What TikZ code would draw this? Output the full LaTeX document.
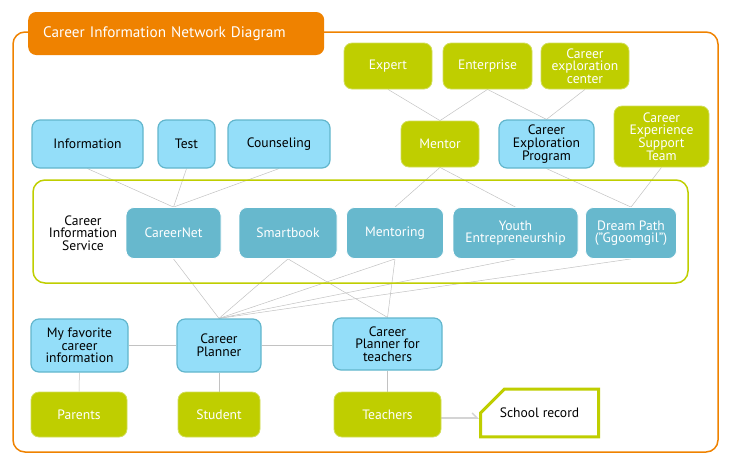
\documentclass[tikz,border=0pt]{standalone}
\usepackage{fontspec}
\setmainfont{PT Sans}
\usetikzlibrary{shapes.misc,arrows.meta,backgrounds}
\definecolor{netorange}{HTML}{EF8200}
\definecolor{netgreen}{HTML}{BFCE00}
\definecolor{netgreenline}{HTML}{D2DE5A}
\definecolor{netblue}{HTML}{94DEF9}
\definecolor{netblueline}{HTML}{62B6CC}
\definecolor{netteal}{HTML}{67B8CD}
\definecolor{netgrey}{HTML}{C2C2C2}
\begin{document}
\begin{tikzpicture}[x=1pt,y=-1pt,
    every node/.style={font=\fontsize{13.6}{12.6}\selectfont, align=center, inner sep=0pt},
    greenbox/.style={draw=netgreenline, fill=netgreen, text=white, rounded corners=8pt, line width=0.8pt},
    bluebox/.style={draw=netblueline, fill=netblue, text=black, rounded corners=8pt, line width=1.2pt},
    tealbox/.style={draw=white, fill=netteal, text=white, rounded corners=8pt, line width=0.8pt},
    link/.style={draw=netgrey, line width=0.5pt}]
    \useasboundingbox (0,0) rectangle (735,467);
    \draw [netorange, line width=1.5pt, rounded corners=12pt] (13,32) rectangle (718,452);
    \node [fill=netorange, text=white, rounded corners=8pt, anchor=west, minimum height=43pt,
        text width=266pt, inner xsep=15pt, align=left, font=\fontsize{15.2}{15}\selectfont]
        (title) at (28,33.5) {Career Information Network Diagram};
    \node [greenbox, minimum width=88pt, minimum height=46pt] (expert) at (388,66) {Expert};
    \node [greenbox, minimum width=89pt, minimum height=46pt] (enterprise) at (487.5,66) {Enterprise};
    \node [greenbox, minimum width=88pt, minimum height=46pt] (center) at (585,66) {Career\\exploration\\center};
    \node [greenbox, minimum width=78pt, minimum height=46pt] (mentor) at (440,144) {Mentor};
    \node [bluebox, minimum width=95pt, minimum height=48pt] (program) at (546.5,144) {Career\\Exploration\\Program};
    \node [greenbox, minimum width=95pt, minimum height=61pt] (support) at (661.5,136.5) {Career\\Experience\\Support\\Team};
    \node [bluebox, minimum width=111pt, minimum height=48pt] (information) at (87.5,144) {Information};
    \node [bluebox, minimum width=57pt, minimum height=48pt] (test) at (186.5,144) {Test};
    \node [bluebox, minimum width=102pt, minimum height=48pt] (counseling) at (279,144) {Counseling};
    \draw [netgreen, line width=1.5pt, rounded corners=12pt] (33,180) rectangle (688,283);
    \node (service) at (83,233) {Career\\Information\\Service};
    \node [tealbox, minimum width=95pt, minimum height=51pt] (careernet) at (173.5,233) {CareerNet};
    \node [tealbox, minimum width=98pt, minimum height=51pt] (smartbook) at (288,233) {Smartbook};
    \node [tealbox, minimum width=97pt, minimum height=51pt] (mentoring) at (395,233) {Mentoring};
    \node [tealbox, minimum width=125pt, minimum height=51pt] (youth) at (515.5,233) {Youth\\Entrepreneurship};
    \node [tealbox, minimum width=91pt, minimum height=51pt] (dream) at (631,233) {Dream Path\\("Ggoomgil")};
    \node [bluebox, minimum width=97pt, minimum height=53pt] (favorite) at (79.5,345.5) {My favorite\\career\\information};
    \node [bluebox, minimum width=84pt, minimum height=53pt] (planner) at (219,345.5) {Career\\Planner};
    \node [bluebox, minimum width=109pt, minimum height=52pt] (tplanner) at (387.5,344) {Career\\Planner for\\teachers};
    \node [greenbox, minimum width=96pt, minimum height=45pt] (parents) at (79,414.5) {Parents};
    \node [greenbox, minimum width=82pt, minimum height=45pt] (student) at (219,414.5) {Student};
    \node [greenbox, minimum width=107pt, minimum height=45pt] (teachers) at (387.5,414.5) {Teachers};
    \node [chamfered rectangle, chamfered rectangle corners=north west, chamfered rectangle xsep=19pt,
        chamfered rectangle ysep=19pt, draw=netgreen, line width=3pt, fill=white,
        minimum width=118pt, minimum height=47pt] (record) at (539.5,413) {School record};
    \begin{scope}[on background layer]
    \draw [link] (expert.south) -- (mentor.north);
    \draw [link] (enterprise.south) -- (mentor.north);
    \draw [link] (enterprise.south) -- (program.north);
    \draw [link] (center.south) -- (program.north);
    \draw [link] (information.south) -- (careernet.north);
    \draw [link] (test.south) -- (careernet.north);
    \draw [link] (counseling.south) -- (careernet.north);
    \draw [link] (mentor.south) -- (mentoring.north);
    \draw [link] (mentor.south) -- (youth.north);
    \draw [link] (program.south) -- (dream.north);
    \draw [link] (support.south) -- (dream.north);
    \draw [link] (careernet.south) -- (planner.north);
    \draw [link] (smartbook.south) -- (planner.north);
    \draw [link] (smartbook.south) -- (tplanner.north);
    \draw [link] (mentoring.south) -- (planner.north);
    \draw [link] (mentoring.south) -- (tplanner.north);
    \draw [link] (youth.south) -- (planner.north);
    \draw [link] (dream.south) -- (planner.north);
    \draw [link] (favorite) -- (planner);
    \draw [link] (planner) -- (tplanner.west |- planner);
    \draw [link] (favorite) -- (parents);
    \draw [link] (planner) -- (student);
    \draw [link] (tplanner) -- (teachers);
    \draw [draw=netgrey!70, line width=1.5pt, -{Straight Barb[left, length=5pt, width=10pt]}]
        (teachers.east |- 0,418) -- (record.west |- 0,418);
    \end{scope}
\end{tikzpicture}
\end{document}
